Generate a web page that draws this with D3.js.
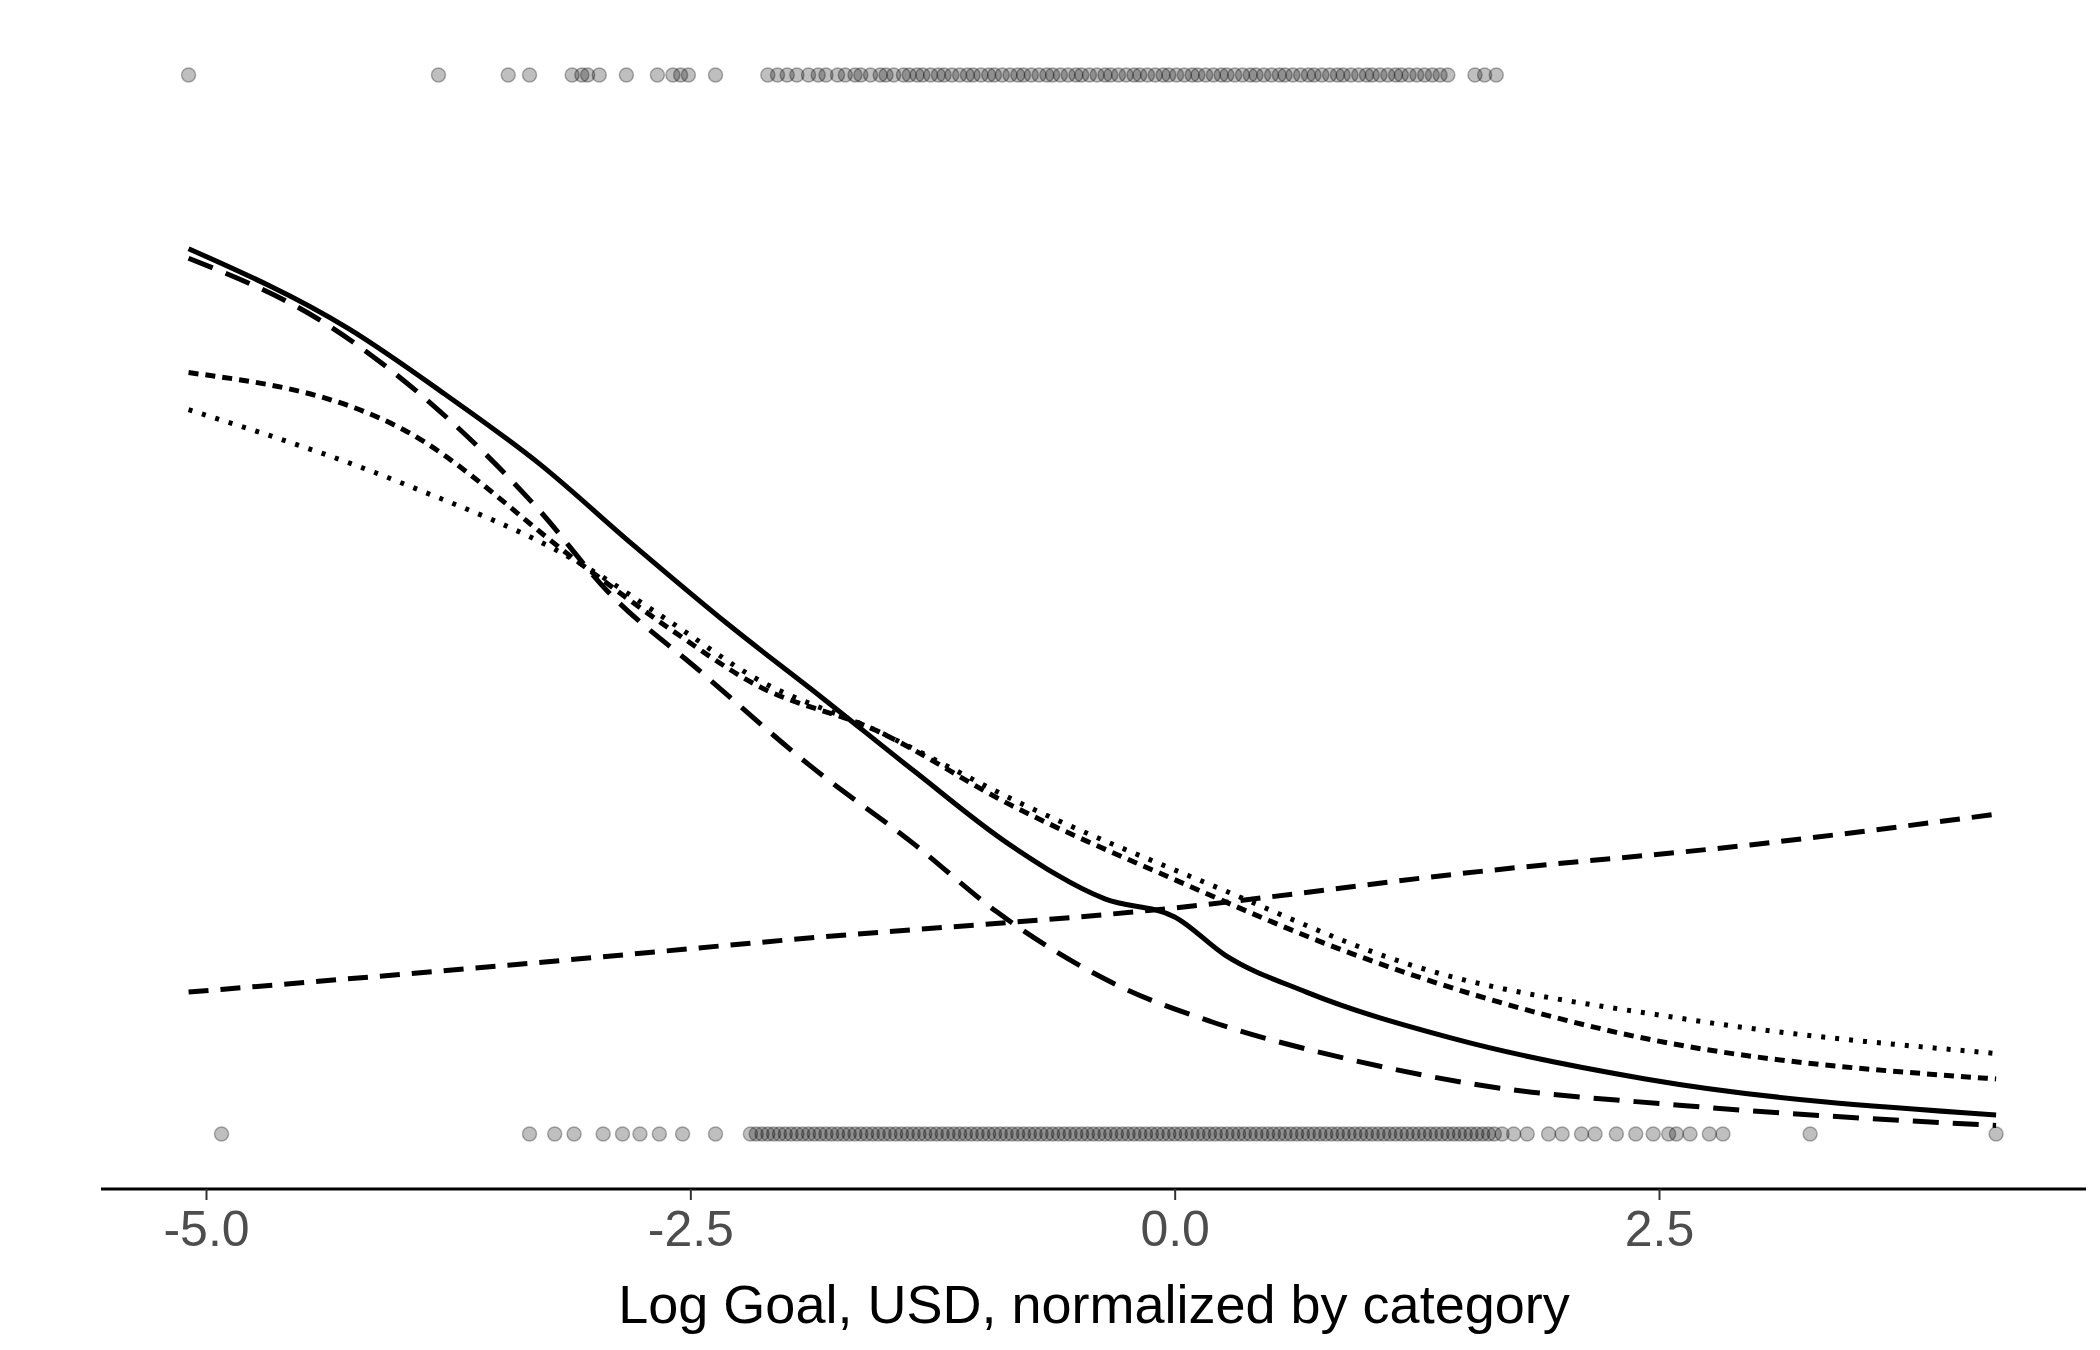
<!DOCTYPE html>
<html>
<head>
<meta charset="utf-8">
<script src="https://cdn.jsdelivr.net/npm/d3@7"></script>
<style>
  body { margin: 0; background: #fff; }
  text { font-family: "Liberation Sans", Arial, sans-serif; }
</style>
</head>
<body>
<svg width="2100" height="1350"></svg>
<script>
const width = 2100,
  height = 1350;
const svg = d3.select('svg');

// Fitted probability curves (x, p)
const solidCurve = [[-5.09,0.836],[-4.26,0.760],[-3.77,0.699],[-3.28,0.633],[-2.80,0.557],[-2.31,0.482],[-1.82,0.412],[-1.34,0.342],[-0.85,0.273],[-0.36,0.222],[0.0,0.205],[0.26,0.169],[0.68,0.134],[1.44,0.090],[2.43,0.052],[4.24,0.018]];
const longDashCurve = [[-5.09,0.827],[-4.39,0.766],[-3.84,0.690],[-3.28,0.589],[-2.93,0.513],[-2.45,0.437],[-1.89,0.349],[-1.34,0.273],[-0.92,0.210],[-0.29,0.140],[0.19,0.106],[0.89,0.071],[1.58,0.046],[2.62,0.027],[4.24,0.008]];
const risingCurve = [[-5.09,0.134],[-3.28,0.162],[-1.89,0.185],[-0.08,0.212],[1.58,0.248],[2.97,0.273],[4.24,0.302]];
const shortDashCurve = [[-5.09,0.719],[-3.98,0.665],[-3.07,0.539],[-2.59,0.475],[-2.17,0.425],[-1.54,0.381],[-0.85,0.311],[-0.01,0.241],[0.89,0.172],[2.28,0.096],[4.24,0.052]];
const dottedCurve = [[-5.09,0.684],[-3.98,0.614],[-3.07,0.539],[-2.59,0.482],[-2.17,0.431],[-1.54,0.381],[-0.78,0.311],[0.19,0.235],[1.23,0.159],[2.62,0.109],[4.24,0.076]];

// Observed outcomes (x values) at y = 1 and y = 0
const successX = [-5.09,-3.80,-3.44,-3.33,-3.11,-3.06,-3.03,-2.97,-2.83,-2.67,-2.59,-2.55,-2.51,-2.37,
  -2.10,-2.05,-2.00,-1.95,-1.89,-1.84,-1.80,-1.74,-1.70,-1.65,-1.62,-1.57,-1.52,-1.49,-1.45,-1.40,-1.37,
  -1.33,-1.30,-1.26,-1.22,-1.19,-1.15,-1.11,-1.07,-1.04,-1.00,-0.96,-0.93,-0.89,-0.85,-0.81,-0.78,-0.74,
  -0.70,-0.66,-0.63,-0.59,-0.55,-0.51,-0.48,-0.44,-0.40,-0.36,-0.33,-0.29,-0.25,-0.21,-0.18,-0.14,-0.10,
  -0.06,-0.03,0.01,0.05,0.09,0.12,0.16,0.20,0.24,0.27,0.31,0.35,0.39,0.42,0.46,0.50,0.54,0.57,0.61,
  0.65,0.69,0.72,0.76,0.80,0.84,0.87,0.91,0.95,0.99,1.02,1.06,1.10,1.14,1.17,1.21,1.25,1.29,1.33,
  1.37,1.41,1.55,1.60,1.66];
const failureX = [-4.92,-3.33,-3.20,-3.10,-2.95,-2.85,-2.76,-2.66,-2.54,-2.37,
  -2.19,-2.16,-2.13,-2.10,-2.07,-2.04,-2.01,-1.98,-1.95,-1.92,-1.89,-1.86,-1.83,-1.80,-1.77,-1.74,-1.71,
  -1.68,-1.65,-1.62,-1.59,-1.56,-1.53,-1.50,-1.47,-1.44,-1.41,-1.38,-1.35,-1.32,-1.29,-1.26,-1.23,-1.20,
  -1.17,-1.14,-1.11,-1.08,-1.05,-1.02,-0.99,-0.96,-0.93,-0.90,-0.87,-0.84,-0.81,-0.78,-0.75,-0.72,-0.69,
  -0.66,-0.63,-0.60,-0.57,-0.54,-0.51,-0.48,-0.45,-0.42,-0.39,-0.36,-0.33,-0.30,-0.27,-0.24,-0.21,-0.18,
  -0.15,-0.12,-0.09,-0.06,-0.03,0.00,0.03,0.06,0.09,0.12,0.15,0.18,0.21,0.24,0.27,0.30,0.33,0.36,0.39,
  0.42,0.45,0.48,0.51,0.54,0.57,0.60,0.63,0.66,0.69,0.72,0.75,0.78,0.81,0.84,0.87,0.90,0.93,0.96,0.99,
  1.02,1.05,1.08,1.11,1.14,1.17,1.20,1.23,1.26,1.29,1.32,1.35,1.38,1.41,1.44,1.47,1.50,1.53,1.56,1.59,
  1.62,1.65,1.69,1.75,1.82,1.93,2.00,2.10,2.17,2.28,2.38,2.47,2.55,2.59,2.66,2.76,2.83,3.28,4.24];

const xTicks = [-5.0, -2.5, 0.0, 2.5];

const x = d3.scaleLinear().domain([-5, 2.5]).range([206, 1659]);
const y = d3.scaleLinear().domain([0, 1]).range([1134, 75]);

// Axis line across the panel
svg.append('line')
  .attr('x1', 101).attr('x2', 2086)
  .attr('y1', 1189).attr('y2', 1189)
  .attr('stroke', '#000').attr('stroke-width', 3);

const axis = svg.append('g')
  .attr('transform', 'translate(0,1189)')
  .call(d3.axisBottom(x).tickValues(xTicks).tickFormat(d3.format('.1f')).tickSize(11).tickPadding(10));
axis.select('.domain').remove();
axis.selectAll('.tick line').attr('stroke', '#333').attr('stroke-width', 2);
axis.selectAll('.tick text')
  .attr('fill', '#4d4d4d')
  .style('font-size', '50px')
  .text((d) => d3.format('.1f')(d).replace('−', '-'));

svg.append('text')
  .attr('x', 1094).attr('y', 1323)
  .attr('text-anchor', 'middle')
  .style('font-size', '54px')
  .attr('fill', '#000')
  .text('Log Goal, USD, normalized by category');

// Data points
const pts = svg.append('g');
[[successX, 1], [failureX, 0]].forEach(([xs, v]) => {
  pts.selectAll(null)
    .data(xs)
    .join('circle')
    .attr('cx', (d) => x(d))
    .attr('cy', y(v))
    .attr('r', 7)
    .attr('fill', '#000')
    .attr('fill-opacity', 0.25)
    .attr('stroke', '#000')
    .attr('stroke-opacity', 0.3)
    .attr('stroke-width', 1.5);
});

// Curves
const line = d3.line().x((d) => x(d[0])).y((d) => y(d[1])).curve(d3.curveMonotoneX);
const curves = [
  [solidCurve, null],
  [longDashCurve, '26,14'],
  [risingCurve, '20,12'],
  [shortDashCurve, '10,7'],
  [dottedCurve, '4,10'],
];
svg.append('g')
  .selectAll('path')
  .data(curves)
  .join('path')
  .attr('d', (d) => line(d[0]))
  .attr('fill', 'none')
  .attr('stroke', '#000')
  .attr('stroke-width', 5)
  .attr('stroke-dasharray', (d) => d[1]);
</script>
</body>
</html>
